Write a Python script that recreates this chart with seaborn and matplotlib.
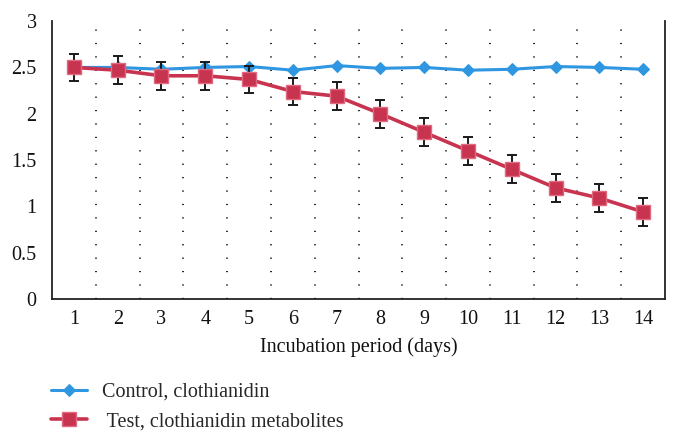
import matplotlib
matplotlib.use("Agg")
import matplotlib.pyplot as plt
import seaborn as sns
import pandas as pd
import numpy as np

days = list(range(1, 15))
control = [2.50, 2.50, 2.48, 2.50, 2.51, 2.47, 2.52, 2.49, 2.50, 2.47, 2.48, 2.51, 2.50, 2.48]
test = [2.50, 2.47, 2.41, 2.41, 2.37, 2.24, 2.19, 2.00, 1.80, 1.60, 1.40, 1.20, 1.09, 0.94]
test_err = [0.15] * 14
y_ticks = [0, 0.5, 1, 1.5, 2, 2.5, 3]
y_tick_labels = ["0", "0.5", "1", "1.5", "2", "2.5", "3"]
label_control = "Control, clothianidin"
label_test = " Test, clothianidin metabolites"
x_title = "Incubation period (days)"

sns.set_theme(style="white")
plt.rcParams["font.family"] = ["Liberation Serif", "DejaVu Serif"]

blue = "#2F96E2"
red = "#C8344F"

fig = plt.figure(figsize=(6.8, 4.4), dpi=100)
ax = fig.add_axes([0.0765, 0.3205, 0.9015, 0.6315])

df_c = pd.DataFrame({"day": days, "value": control})
df_t = pd.DataFrame({"day": days, "value": test})

# dotted vertical separators
for b in np.arange(1.5, 14.5, 1.0):
    ax.plot([b, b], [0, 3], color="#222222", linewidth=1.4,
            linestyle=(0, (0.6, 6.3)), zorder=0)

ax.errorbar(days, test, yerr=test_err, fmt="none", ecolor="#1a1a1a",
            elinewidth=1.4, capsize=3.5, capthick=1.4, zorder=4)

sns.lineplot(data=df_c, x="day", y="value", ax=ax, color=blue, linewidth=2.2,
             marker="D", markersize=6.5, markeredgecolor=blue, label=label_control,
             zorder=3)
sns.lineplot(data=df_t, x="day", y="value", ax=ax, color=red, linewidth=2.6,
             marker="s", markersize=10.5, markeredgecolor="#E06A80", markeredgewidth=1.0,
             label=label_test, zorder=5)

ax.set_xlim(0.5, 14.5)
ax.set_ylim(0, 3)
ax.set_xticks(days)
ax.set_xticklabels([str(d) for d in days], fontsize=14.5)
ax.set_yticks(y_ticks)
ax.set_yticklabels(y_tick_labels, fontsize=14.5)
ax.tick_params(axis="x", length=0, pad=8, colors="#111111")
ax.tick_params(axis="y", length=0, pad=11, colors="#111111")
ax.set_xlabel(x_title, fontsize=14.5, labelpad=6, color="#111111")
ax.set_ylabel("")

for s in ["left", "bottom", "right"]:
    ax.spines[s].set_visible(True)
    ax.spines[s].set_color("#222222")
    ax.spines[s].set_linewidth(1.3)
ax.spines["top"].set_visible(False)

ax.get_legend().remove()
handles, labels = ax.get_legend_handles_labels()
fig.legend(handles, labels, loc="upper left", bbox_to_anchor=(0.075, 0.130),
           frameon=False, fontsize=14.5, handlelength=1.8, handletextpad=0.75,
           labelspacing=0.5, borderaxespad=0, borderpad=0)

fig.savefig("out.png", dpi=100)
